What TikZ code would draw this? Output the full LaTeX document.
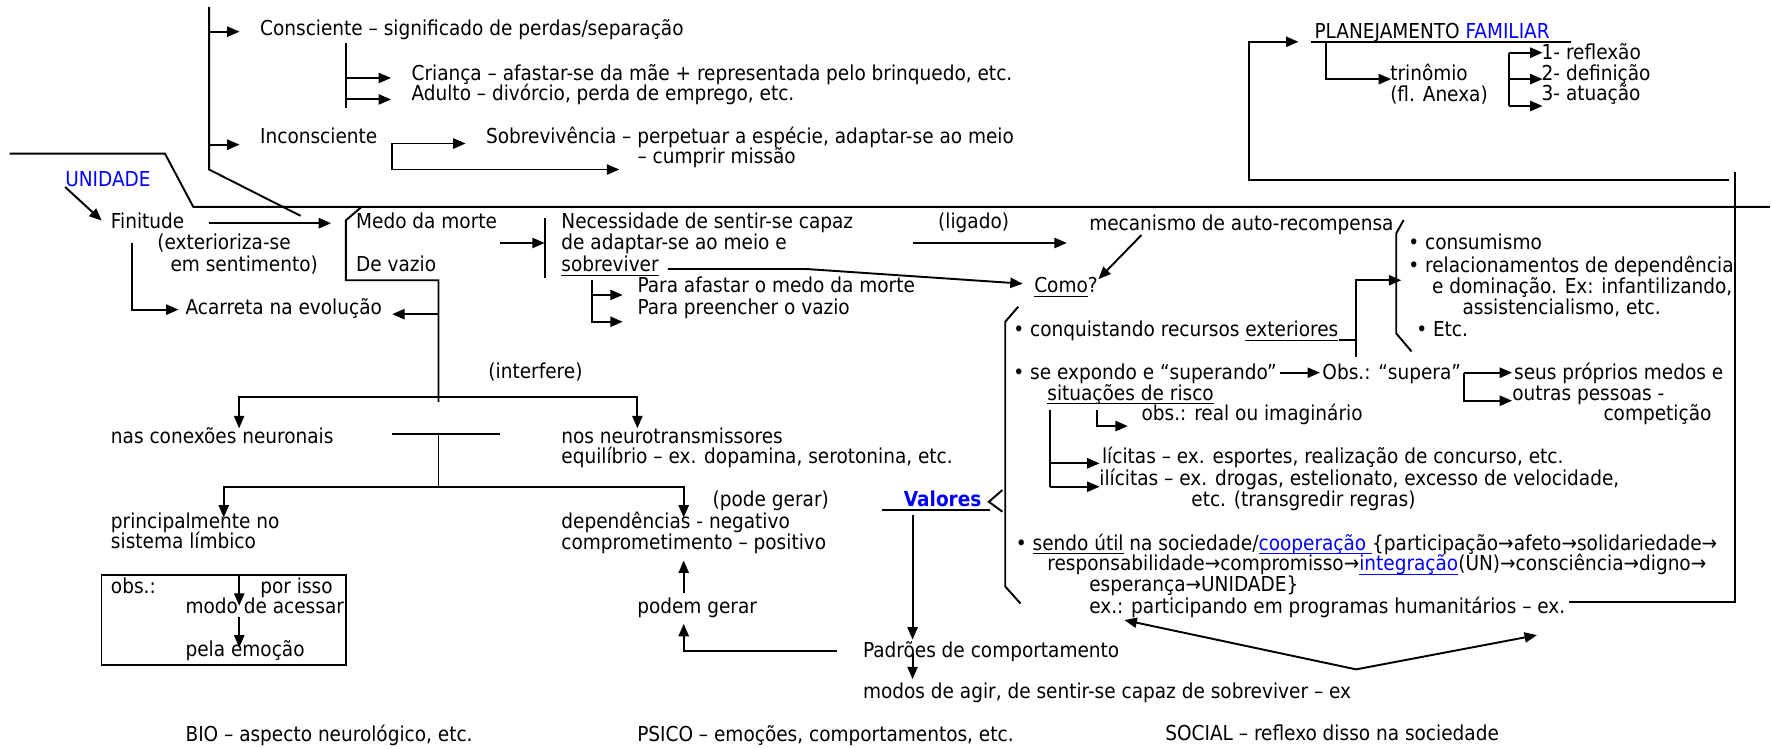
\documentclass[tikz,border=0pt]{standalone}
\usepackage{fontspec}
\setmainfont{DejaVu Sans Condensed}
\usetikzlibrary{arrows.meta}
\definecolor{wordblue}{RGB}{0,0,255}
\newcommand{\uln}[1]{\setbox0\hbox{#1}\rlap{\vrule width\wd0 height -2.5pt depth 3.8pt}\box0\relax}
\tikzset{
  txt/.style={anchor=base west, inner sep=0pt},
  ln/.style={line width=1.7pt},
  arr/.style={ln, -{Triangle[length=11pt,width=9pt]}},
}
\begin{document}
\fontsize{18.2}{18.7}\selectfont
\begin{tikzpicture}[x=1pt,y=-1pt]
\useasboundingbox (0,0) rectangle (1568,662);
% upper left: consciente / inconsciente
\node[txt] (cons) at (230,31) {Consciente – significado de perdas/separação};
\node[txt] (crianca) at (364,71) {Criança – afastar-se da mãe + representada pelo brinquedo, etc.};
\node[txt] (adulto) at (364,89) {Adulto – divórcio, perda de emprego, etc.};
\node[txt] (incons) at (230,127) {Inconsciente};
\node[txt] (sobrev) at (430,127) {Sobrevivência – perpetuar a espécie, adaptar-se ao meio};
\node[txt] (missao) at (564,145) {– cumprir missão};
% finitude row
\node[txt,text=wordblue] (unidade) at (57.6,165) {UNIDADE};
\node[txt] (finit) at (98,202) {Finitude};
\node[txt] (exter) at (139,221) {(exterioriza-se};
\node[txt] (sentim) at (150.7,240.5) {em sentimento)};
\node[txt] (medo) at (315,202) {Medo da morte};
\node[txt] (vazio) at (315,240.5) {De vazio};
\node[txt] (nec1) at (496.6,202) {Necessidade de sentir-se capaz};
\node[txt] (nec2) at (496.6,221) {de adaptar-se ao meio e};
\node[txt] (nec3) at (496.6,240.5) {\uln{sobreviver}};
\node[txt] (ligado) at (830,202) {(ligado)};
\node[txt] (mecan) at (963.7,203.6) {mecanismo de auto-recompensa};
\node[txt] (para1) at (564,259) {Para afastar o medo da morte};
\node[txt] (para2) at (564,278) {Para preencher o vazio};
\node[txt] (como) at (915,259) {\uln{Como}?};
\node[txt] (acarr) at (164,278) {Acarreta na evolução};
% consumismo list
\node[txt] (consum) at (1246,221) {• consumismo};
\node[txt] (relac) at (1246,241.4) {• relacionamentos de dependência};
\node[txt] (domin) at (1267,259.7) {e dominação. Ex: infantilizando,};
\node[txt] (assist) at (1294,278) {assistencialismo, etc.};
\node[txt] (etc) at (1253,298) {• Etc.};
% como list
\node[txt] (conq) at (896.5,298) {• conquistando recursos \uln{exteriores}};
\node[txt] (interf) at (432,335) {(interfere)};
\node[txt] (expondo) at (896.5,335.8) {• se expondo e “superando”};
\node[txt] (supera) at (1170,335.8) {Obs.: “supera”};
\node[txt] (seus) at (1339.6,335.8) {seus próprios medos e};
\node[txt] (outras) at (1338,354) {outras pessoas -};
\node[txt] (compet) at (1418.7,371.8) {competição};
\node[txt] (risco) at (926.6,354) {\uln{situações de risco}};
\node[txt] (real) at (1010,371.8) {obs.: real ou imaginário};
\node[txt] (licit) at (975,410) {lícitas – ex. esportes, realização de concurso, etc.};
\node[txt] (ilicit) at (972.6,430) {ilícitas – ex. drogas, estelionato, excesso de velocidade,};
\node[txt] (transg) at (1054,448.5) {etc. (transgredir regras)};
\node[txt] (sendo) at (898.7,486.8) {• \uln{sendo útil} na sociedade/\textcolor{wordblue}{\uln{cooperação }}\{participação→afeto→solidariedade→};
\node[txt] (respons) at (926.6,505) {responsabilidade→compromisso→\textcolor{wordblue}{\uln{integração}}(UN)→consciência→digno→};
\node[txt] (esper) at (963.7,523.7) {esperança→UNIDADE\}};
\node[txt] (exprog) at (963.7,543) {ex.: participando em programas humanitários – ex.};
% bio / psico
\node[txt] (conex) at (98,392) {nas conexões neuronais};
\node[txt] (neuro1) at (496.6,392) {nos neurotransmissores};
\node[txt] (neuro2) at (496.6,410) {equilíbrio – ex. dopamina, serotonina, etc.};
\node[txt] (podeg) at (630.4,448.5) {(pode gerar)};
\node[txt,text=wordblue,font=\bfseries] (valores) at (799.7,448.5) {Valores};
\node[txt] (princ1) at (98,467.7) {principalmente no};
\node[txt] (princ2) at (98,485) {sistema límbico};
\node[txt] (dep1) at (496.6,467.7) {dependências - negativo};
\node[txt] (dep2) at (496.6,486) {comprometimento – positivo};
\node[txt] (obs) at (98,525) {obs.:};
\node[txt,anchor=base east] (porisso) at (294.6,525) {por isso};
\node[txt] (modo) at (164,543) {modo de acessar};
\node[txt] (emocao) at (164,581) {pela emoção};
\node[txt] (podem) at (563.7,543) {podem gerar};
\node[txt] (padroes) at (763.5,581.8) {Padrões de comportamento};
\node[txt] (modos) at (763.5,618) {modos de agir, de sentir-se capaz de sobreviver – ex};
\node[txt] (bio) at (164,656) {BIO – aspecto neurológico, etc.};
\node[txt] (psico) at (563.7,656.4) {PSICO – emoções, comportamentos, etc.};
\node[txt] (social) at (1031,655) {SOCIAL – reflexo disso na sociedade};
% planejamento
\node[txt] (plan) at (1163,34) {PLANEJAMENTO \textcolor{wordblue}{FAMILIAR}};
\node[txt] (trin) at (1230,71) {trinômio};
\node[txt] (anexa) at (1230,89.5) {(fl. Anexa)};
\node[txt] (refl) at (1364,52.6) {1- reflexão};
\node[txt] (defin) at (1364,71) {2- definição};
\node[txt] (atua) at (1364,88.6) {3- atuação};

% lines, upper left
\draw[ln] (185,6) -- (185,150) -- (266,191);
\draw[arr] (185,28) -- (212,28);
\draw[arr] (185,128) -- (212,128);
\draw[ln] (306,38) -- (306,96);
\draw[arr] (306,69) -- (346,69);
\draw[arr] (306,88) -- (346,88);
\draw[arr] (347,150) -- (347,127) -- (412,127);
\draw[arr] (347,150) -- (548,150);
\draw[ln] (8.5,136) -- (146,136) -- (171,183) -- (1566,183);
\draw[arr] (unidade.south west) -- ([xshift=-8pt]finit.west);
% finitude / medo
\draw[arr] (184.6,197.5) -- (293,197.5);
\draw[arr] (117,215) |- (158,274);
\draw[ln] (320,183) -- (306,195) -- (306,248) -- (388,248) -- (388,355.5);
\draw[arr] (388,278) -- (347,278);
\draw[arr] (442,215) -- (482,215);
\draw[ln] (482,193) -- (482,246);
\draw[ln] (523.5,248) -- (523.5,286);
\draw[arr] (523.5,261) -- (551,261);
\draw[arr] (523.5,284.7) -- (551,284.7);
\draw[arr] (591,238) -- (713,238) -- (905,251);
\draw[arr] (808,215) -- (944,215);
\draw[arr] (1010,208) -- (972,247);
% interfere tree
\draw[arr] (388,351) -| (211.6,379);
\draw[arr] (388,351) -| (564,379);
\draw[ln] (347,384) -- (442,384);
\draw[ln] (388,384) -- (388,430.7);
\draw[arr] (388,430.7) -| (198,458);
\draw[arr] (388,430.7) -| (605,458);
\draw[line width=1.4pt] (89.7,509) rectangle (306,588.5);
\draw[arr] (211.7,509) -- (211.7,536);
\draw[arr] (211.7,545.7) -- (211.7,573);
\draw[arr] (605,525) -- (605,496);
\draw[arr] (740.5,575.8) -| (605,552);
% valores
\draw[ln] (780.5,451) -- (876,451);
\draw[arr] (807.5,455.8) -- (807.5,566);
\draw[arr] (807.5,578) -- (807.5,601);
\draw[ln] (887,433.6) -- (875,444) -- (887,452.8);
% brackets right
\draw[ln] (901,271.4) -- (889.5,284.7) -- (889.5,519) -- (903,534);
\draw[ln] (1242,194.7) -- (1235.5,206.5) -- (1235.5,295) -- (1249,311);
\draw[arr] ([yshift=-3.2pt]conq.base east) -| (1200,248) -- (1240,248);
\draw[ln] (1200,248) -- (1200,316);
\draw[arr] (1133,329.8) -- (1168,329.8);
\draw[arr] (1295.6,329.8) -- (1338,329.8);
\draw[arr] (1295.6,329.8) |- (1338,354.6);
\draw[ln] (928.8,362.8) -- (928.8,430.7);
\draw[arr] (928.8,410) -- (973,410);
\draw[arr] (928.8,430.7) -- (973,430.7);
\draw[arr] (970.6,362.8) |- (998,377);
% planejamento frame
\draw[arr] (1530,159) -- (1105,159) -- (1105,37) -- (1149,37);
\draw[ln] (1535.6,152) -- (1535.6,533) -- (1388,533);
\draw[ln] (1160,37) -- (1390,37);
\draw[arr] (1173,37) |- (1231,70);
\draw[ln] (1335.6,46.6) -- (1335.6,93.8);
\foreach \y in {46.6,70,93.8}
  \draw[arr] (1335.6,\y) -- (1365,\y);
\draw[arr] (1200,592.3) -- (995,548.7);
\draw[arr] (1200,592.3) -- (1360,562);
\end{tikzpicture}
\end{document}
